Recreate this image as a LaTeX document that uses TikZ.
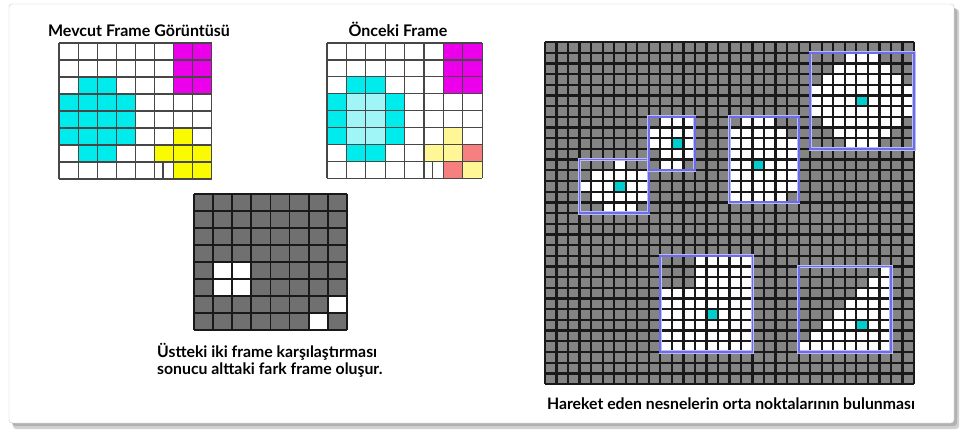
\documentclass[tikz,border=0pt]{standalone}
\usepackage{fontspec}
\setmainfont{Lato}
\usetikzlibrary{positioning}

\definecolor{cellcyan}{RGB}{0,236,236}
\definecolor{lightcyan}{RGB}{160,246,246}
\definecolor{cellmag}{RGB}{236,0,236}
\definecolor{cellyel}{RGB}{250,250,0}
\definecolor{lightyel}{RGB}{255,246,150}
\definecolor{salmon}{RGB}{246,128,128}
\definecolor{diffgray}{RGB}{112,112,112}
\definecolor{biggray}{RGB}{132,132,132}
\definecolor{boxblue}{RGB}{108,108,232}
\definecolor{dotcyan}{RGB}{0,205,205}

\tikzset{
    title/.style={font=\bfseries\fontsize{16}{18}\selectfont, inner sep=0pt, anchor=base},
    caption/.style={font=\bfseries\fontsize{15.8}{18}\selectfont, inner sep=0pt},
    gridline/.style={draw=black!72, line width=1.2pt},
    diffline/.style={draw=black!90, line width=1.8pt},
    bigline/.style={draw=black!90, line width=2.3pt},
    glow/.style={draw=boxblue!45, line width=3.2pt},
    objbox/.style={draw=boxblue, line width=1.8pt}
}

\begin{document}
\begin{tikzpicture}[x=1pt, y=-1pt]
    \useasboundingbox (0,0) rectangle (966,434);

    % Frame with shadow
    \fill[gray!35, rounded corners=3pt] (13,9) rectangle (959,429);
    \fill[gray!60, rounded corners=3pt] (12,8) rectangle (957,426);
    \filldraw[fill=white, draw=gray!45, rounded corners=3pt] (9,4) rectangle (954,423);

    % Grid corners
    \coordinate (cur) at (59,43);
    \coordinate (prev) at (327,43);
    \coordinate (diff) at (194,194);
    \coordinate (big) at (545,42);

    % Titles and captions
    \node[title] (curtitle) at (139,36) {Mevcut Frame Görüntüsü};
    \node[title] (prevtitle) at (398,36) {Önceki Frame};
    \node[caption, anchor=base west] (diffcap1) at (157,357) {Üstteki iki frame karşılaştırması};
    \node[caption, anchor=base west] (diffcap2) at (157,374) {sonucu alttaki fark frame oluşur.};
    \node[caption, anchor=base] (bigcap) at (731,409) {Hareket eden nesnelerin orta noktalarının bulunması};

    % Current frame
    \begin{scope}[shift={(cur)}, x=19.1pt, y=-17pt]
        \foreach \c/\r in {6/0,7/0,6/1,7/1,6/2,7/2}
            \fill[cellmag] (\c,\r) rectangle ++(1,1);
        \foreach \c/\r in {1/2,2/2,0/3,1/3,2/3,3/3,0/4,1/4,2/4,3/4,0/5,1/5,2/5,3/5,1/6,2/6}
            \fill[cellcyan] (\c,\r) rectangle ++(1,1);
        \foreach \c/\r in {6/5,5/6,6/6,7/6,6/7,7/7}
            \fill[cellyel] (\c,\r) rectangle ++(1,1);
        \foreach \i in {0,...,8} {
            \draw[gridline] (\i,0) -- (\i,8);
            \draw[gridline] (0,\i) -- (8,\i);
        }
        \draw[gridline] (5.45,7) -- (5.45,8);
    \end{scope}

    % Previous frame
    \begin{scope}[shift={(prev)}, x=19.4pt, y=-16.9pt]
        \foreach \c/\r in {6/0,7/0,6/1,7/1,6/2,7/2}
            \fill[cellmag] (\c,\r) rectangle ++(1,1);
        \foreach \c/\r in {1/2,2/2,0/3,3/3,0/4,3/4,0/5,3/5,1/6,2/6}
            \fill[cellcyan] (\c,\r) rectangle ++(1,1);
        \foreach \c/\r in {1/3,2/3,1/4,2/4,1/5,2/5}
            \fill[lightcyan] (\c,\r) rectangle ++(1,1);
        \foreach \c/\r in {6/5,5/6,6/6,7/7}
            \fill[lightyel] (\c,\r) rectangle ++(1,1);
        \foreach \c/\r in {7/6,6/7}
            \fill[salmon] (\c,\r) rectangle ++(1,1);
        \foreach \i in {0,...,8} {
            \draw[gridline] (\i,0) -- (\i,8);
            \draw[gridline] (0,\i) -- (8,\i);
        }
        \draw[gridline] (5.45,7) -- (5.45,8);
    \end{scope}

    % Difference frame
    \begin{scope}[shift={(diff)}, x=19.1pt, y=-17pt]
        \fill[diffgray] (0,0) rectangle (8,8);
        \foreach \c/\r in {1/4,2/4,1/5,2/5,7/6,6/7}
            \fill[white] (\c,\r) rectangle ++(1,1);
        \foreach \i in {0,...,8} {
            \draw[diffline] (\i,0) -- (\i,8);
            \draw[diffline] (0,\i) -- (8,\i);
        }
    \end{scope}

    % Moving objects and their centres
    \begin{scope}[shift={(big)}, x=11.53pt, y=-10.69pt]
        \fill[biggray] (0,0) rectangle (32,32);
        % white runs: row/first col/last col
        \foreach \r/\a/\b in {11/6/6,12/4/8,13/3/8,14/4/8,15/5/7,
                              7/10/12,8/9/12,9/9/12,10/10/12,11/10/11,
                              7/17/19,8/16/20,9/16/21,10/16/21,11/16/21,12/16/21,13/16/21,14/16/20,
                              1/26/28,2/25/29,3/24/30,4/23/31,5/23/31,6/23/31,7/24/30,8/25/29,9/26/28,
                              20/13/17,21/13/17,22/13/17,23/10/17,24/10/17,25/10/17,26/10/17,27/10/17,28/10/17,
                              21/29/29,22/28/29,23/27/29,24/26/29,25/25/29,26/24/29,27/23/29,28/22/29}
            \fill[white] (\a,\r) rectangle (\b+1,\r+1);
        \foreach \c/\r in {6/13,11/9,18/11,27/5,14/25,27/26}
            \fill[dotcyan] (\c,\r) rectangle ++(1,1);
        \foreach \i in {0,...,32} {
            \draw[bigline] (\i,0) -- (\i,32);
            \draw[bigline] (0,\i) -- (32,\i);
        }
        \foreach \a/\r/\b/\s in {3/11/9/16, 9/7/13/12, 16/7/22/15, 23/1/32/10, 10/20/18/29, 22/21/30/29} {
            \draw[glow] (\a,\r) rectangle (\b,\s);
            \draw[objbox] (\a,\r) rectangle (\b,\s);
        }
    \end{scope}
\end{tikzpicture}
\end{document}
